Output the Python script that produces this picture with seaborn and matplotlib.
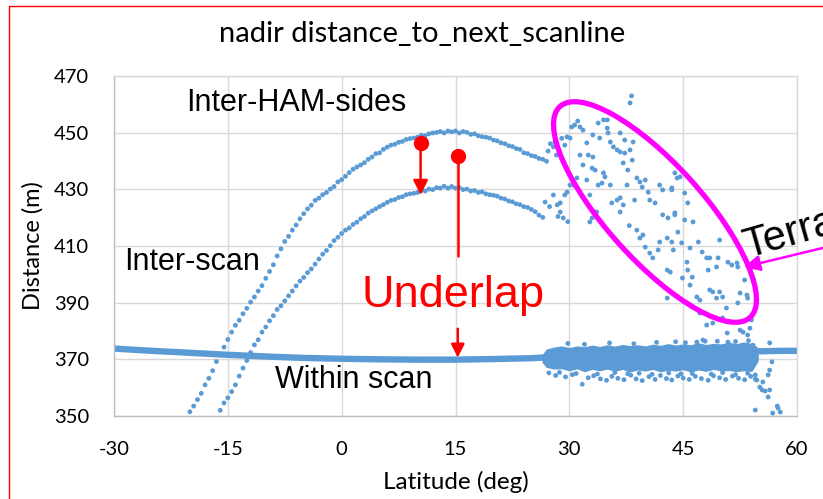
import matplotlib
matplotlib.use("Agg")
import matplotlib.pyplot as plt
from matplotlib.lines import Line2D
from matplotlib.patches import Ellipse
import numpy as np
import pandas as pd
import seaborn as sns

# ---- data (latitude in deg, distance in m) ----
ham_lat = [-20.0, -19.5, -19.0, -18.5, -18.0, -17.5, -17.0, -16.5, -16.0, -15.5,
           -15.0, -14.5, -14.0, -13.5, -13.0, -12.5, -12.0, -11.5, -11.0, -10.5,
           -10.0, -9.5, -9.0, -8.5, -8.0, -7.5, -7.0, -6.5, -6.0, -5.5,
           -5.0, -4.5, -4.0, -3.5, -3.0, -2.5, -2.0, -1.5, -1.0, -0.5,
           0.0, 0.5, 1.0, 1.5, 2.0, 2.5, 3.0, 3.5, 4.0, 4.5,
           5.0, 5.5, 6.0, 6.5, 7.0, 7.5, 8.0, 8.5, 9.0, 9.5,
           10.0, 10.5, 11.0, 11.5, 12.0, 12.5, 13.0, 13.5, 14.0, 14.5,
           15.0, 15.5, 16.0, 16.5, 17.0, 17.5, 18.0, 18.5, 19.0, 19.5,
           20.0, 20.5, 21.0, 21.5, 22.0, 22.5, 23.0, 23.5, 24.0, 24.5,
           25.0, 25.5, 26.0, 26.5, 27.0]
ham_dist = [351.5, 353.5, 355.8, 358.0, 361.0, 363.3, 366.0, 369.2, 371.5, 374.3,
            377.0, 379.6, 382.0, 383.8, 386.1, 388.0, 390.2, 392.0, 394.1, 396.0,
            398.6, 401.0, 403.4, 406.5, 409.0, 411.6, 413.4, 415.6, 417.4, 419.6,
            421.4, 423.1, 424.4, 426.1, 426.9, 428.1, 428.9, 430.1, 431.0, 432.6,
            433.4, 434.6, 435.9, 437.1, 437.9, 438.6, 439.4, 440.6, 441.4, 442.6,
            442.9, 444.1, 444.9, 445.6, 445.9, 446.6, 446.9, 447.6, 447.9, 448.1,
            448.4, 449.1, 448.9, 449.6, 449.9, 450.1, 450.4, 449.9, 450.6, 450.3,
            450.6, 449.9, 450.4, 450.1, 449.4, 449.6, 448.9, 448.6, 448.4, 448.1,
            447.4, 447.1, 446.4, 446.1, 445.4, 445.1, 444.4, 444.1, 442.9, 442.6,
            441.9, 441.6, 440.9, 440.6, 439.9]

scan_lat = [-16.0, -15.5, -15.0, -14.5, -14.0, -13.5, -13.0, -12.5, -12.0, -11.5,
            -11.0, -10.5, -10.0, -9.5, -9.0, -8.5, -8.0, -7.5, -7.0, -6.5,
            -6.0, -5.5, -5.0, -4.5, -4.0, -3.5, -3.0, -2.5, -2.0, -1.5,
            -1.0, -0.5, 0.0, 0.5, 1.0, 1.5, 2.0, 2.5, 3.0, 3.5,
            4.0, 4.5, 5.0, 5.5, 6.0, 6.5, 7.0, 7.5, 8.0, 8.5,
            9.0, 9.5, 10.0, 10.5, 11.0, 11.5, 12.0, 12.5, 13.0, 13.5,
            14.0, 14.5, 15.0, 15.5, 16.0, 16.5, 17.0, 17.5, 18.0, 18.5,
            19.0, 19.5, 20.0, 20.5, 21.0, 21.5, 22.0, 22.5, 23.0, 23.5,
            24.0, 24.5, 25.0, 25.5, 26.0, 26.5]
scan_dist = [352.0, 354.6, 356.4, 358.6, 361.0, 364.1, 366.9, 369.6, 372.4, 375.1,
             376.9, 379.6, 381.4, 383.6, 385.4, 387.6, 388.9, 390.6, 392.4, 394.1,
             395.9, 397.6, 398.9, 400.6, 401.9, 403.6, 405.4, 407.1, 408.4, 410.1,
             411.9, 413.1, 414.4, 415.6, 416.4, 417.6, 418.4, 419.6, 420.4, 421.6,
             422.4, 423.1, 423.9, 424.6, 425.4, 426.1, 426.4, 427.1, 427.4, 428.1,
             428.4, 428.6, 428.9, 429.6, 429.4, 430.1, 429.9, 430.6, 430.4, 431.1,
             430.4, 431.0, 430.4, 430.6, 429.9, 430.1, 429.4, 429.6, 428.9, 429.1,
             428.4, 428.1, 427.9, 427.6, 426.9, 426.6, 425.9, 425.6, 424.9, 424.6,
             423.9, 423.6, 422.9, 422.1, 420.9, 420.1]

# scattered "terra" points (beyond ~27 deg)
terra_lat = [27.2, 27.5, 27.9, 28.1, 28.3, 29.0, 29.4, 29.7, 30.1, 30.3,
             30.7, 31.1, 31.4, 31.8, 38.2, 38.0, 32.3, 33.8, 34.5, 35.0,
             35.0, 35.1, 33.1, 34.0, 36.7, 37.3, 38.4, 35.4, 35.8, 36.3,
             36.7, 37.3, 38.0, 38.3, 37.1, 37.7, 34.5, 34.7, 33.0, 33.4,
             31.4, 32.5, 33.1, 31.8, 32.3, 31.0, 30.5, 30.1, 29.7, 29.4,
             27.9, 26.8, 28.8, 28.4, 28.8, 29.2, 33.8, 34.3, 35.4, 32.7,
             33.0, 32.7, 33.6, 35.6, 36.3, 36.7, 37.1, 36.7, 37.6, 38.6,
             38.9, 39.3, 40.0, 39.6, 40.4, 40.6, 41.3, 41.9, 42.3, 43.5,
             42.3, 43.0, 43.9, 43.9, 44.2, 43.5, 44.6, 45.2, 45.6, 43.9,
             45.2, 46.3, 38.9, 39.7, 39.3, 40.0, 40.6, 41.0, 41.9, 42.9,
             43.5, 44.3, 44.8, 43.7, 41.7, 42.9, 43.3, 45.9, 47.5, 47.0,
             45.5, 48.1, 48.5, 49.6, 49.8, 50.9, 51.4, 52.1, 52.2, 49.4,
             48.3, 45.6, 46.2, 44.9, 45.9, 42.9, 46.8, 47.2, 48.5, 48.9,
             49.8, 49.4, 50.2, 50.7, 52.2, 52.5, 53.1, 53.4, 53.5, 48.1,
             48.9, 50.8, 52.5, 52.9, 54.0, 53.8, 47.2, 50.2, 53.5, 54.2,
             47.6, 46.8, 49.5, 51.9, 27.4, 29.8, 28.5, 37.9]
terra_dist = [443.5, 446.1, 445.0, 446.7, 442.1, 448.0, 445.6, 448.5, 448.1, 452.0,
              452.7, 454.1, 452.0, 450.9, 463.0, 460.5, 446.4, 453.4, 454.5, 454.5,
              451.6, 449.9, 449.2, 448.1, 449.9, 447.4, 446.7, 446.7, 445.0, 443.9,
              443.2, 442.8, 443.9, 440.3, 439.3, 436.8, 435.8, 434.4, 437.5, 436.8,
              442.1, 442.1, 441.4, 438.6, 433.3, 434.0, 431.5, 431.5, 429.0, 428.0,
              428.0, 425.5, 425.2, 424.5, 422.0, 419.9, 431.5, 432.2, 431.5, 428.0,
              419.9, 418.5, 422.0, 425.2, 426.2, 427.0, 424.5, 422.0, 431.5, 426.2,
              434.0, 432.6, 433.3, 430.8, 429.0, 426.2, 425.2, 431.5, 429.8, 429.8,
              421.0, 419.9, 421.7, 435.8, 434.0, 430.5, 434.4, 428.7, 425.2, 421.0,
              419.2, 418.5, 415.6, 413.9, 412.8, 409.6, 407.5, 405.8, 411.4, 412.8,
              411.4, 414.9, 411.1, 408.6, 408.6, 401.5, 400.8, 409.3, 407.9, 411.4,
              404.3, 405.8, 405.8, 405.8, 412.1, 404.3, 403.3, 404.0, 402.6, 402.6,
              401.5, 401.5, 399.0, 398.7, 396.2, 391.6, 392.0, 390.9, 394.5, 393.8,
              393.8, 391.6, 392.0, 388.1, 389.9, 393.4, 398.0, 392.7, 391.6, 382.1,
              382.8, 379.3, 380.3, 379.6, 383.9, 381.0, 386.3, 384.6, 378.6, 375.0,
              376.8, 376.1, 376.4, 376.3, 423.9, 418.6, 420.4, 417.2]

# points dropping off near 55-58 deg
drop_lat = [56.4, 56.7, 56.4, 56.2, 55.5, 55.1, 55.4, 55.8, 56.4, 56.2,
            54.5, 57.4, 57.5, 57.8, 56.8, 54.5, 54.7]
drop_dist = [375.8, 369.1, 366.2, 364.5, 362.0, 360.2, 359.2, 358.8, 359.2, 356.7,
             352.1, 353.5, 352.8, 351.4, 351.0, 364.5, 362.7]

# within-scan line (smooth part and tail beyond 55 deg)
within_lat = [-30, -25, -20, -15, -10, -5, 0, 5, 10, 15, 20, 25, 27]
within_dist = [373.8, 373.0, 372.3, 371.6, 371.0, 370.5, 370.2, 370.0, 369.9, 369.9,
               370.1, 370.4, 370.7]
tail_lat = [54.5, 56, 58, 60]
tail_dist = [372.8, 372.9, 373.0, 373.0]

# noisy within-scan band 27-55 deg: upper / lower edge of the dense core
band_lat = [26.5, 27, 28, 29, 30, 31, 32, 33, 34, 35, 36, 37, 38, 39, 40,
            41, 42, 43, 44, 45, 46, 47, 48, 49, 50, 51, 52, 53, 54, 54.8]
band_hi = [371.5, 373.4, 374.1, 374.5, 373.9, 374.5, 374.2, 374.8, 374.3, 374.9,
           374.4, 375.0, 374.6, 374.9, 374.5, 375.1, 374.7, 375.3, 374.8, 375.2,
           374.9, 375.6, 375.0, 375.4, 375.2, 375.8, 375.3, 375.9, 375.4, 374.0]
band_lo = [369.0, 367.4, 366.8, 366.9, 366.2, 366.9, 365.9, 366.7, 366.2, 366.8,
           366.0, 366.7, 365.8, 366.5, 366.1, 366.7, 365.8, 366.4, 366.1, 366.6,
           365.8, 366.5, 366.0, 366.7, 366.1, 366.3, 365.9, 366.2, 366.0, 369.5]
# stray points just outside the dense band
stray_lat = [27.3, 28.2, 29.5, 30.4, 31.7, 32.5, 33.2, 34.1, 34.9, 35.6,
             36.4, 37.2, 38.1, 38.8, 39.6, 40.5, 41.3, 42.0, 42.8, 43.5,
             44.3, 45.0, 45.8, 46.6, 47.4, 48.3, 49.0, 49.8, 50.6, 51.5,
             52.3, 53.1, 53.9, 54.5, 29.8, 35.3, 41.5, 47.9, 53.6, 44.0,
             28.7, 30.9, 33.7, 36.0, 37.7, 39.2, 40.9, 43.1, 44.7, 46.2,
             48.7, 50.2, 51.9, 53.5, 32.0, 38.5, 45.3, 50.9]
stray_dist = [365.2, 364.3, 363.8, 364.6, 361.2, 363.5, 364.2, 363.1, 362.6, 364.0,
              363.3, 362.8, 364.4, 363.1, 362.5, 363.9, 362.9, 364.3, 363.2, 362.7,
              364.1, 363.4, 362.9, 364.0, 363.2, 362.6, 364.2, 363.5, 362.9, 364.1,
              363.3, 362.8, 364.0, 363.0, 375.6, 375.8, 376.0, 376.4, 376.6, 376.2,
              365.4, 365.0, 364.8, 365.3, 364.9, 365.1, 364.7, 365.2, 364.9, 365.0,
              364.8, 365.3, 364.6, 365.1, 375.3, 375.5, 375.9, 376.1]

x_ticks = [-30, -15, 0, 15, 30, 45, 60]
y_ticks = [350, 370, 390, 410, 430, 450, 470]

BLUE = "#5B9BD5"
GRID = "#D9D9D9"

sns.set_style("whitegrid")
plt.rcParams['font.family'] = ['Lato', 'DejaVu Sans']
plt.rcParams['axes.unicode_minus'] = False
plt.rcParams['text.color'] = 'black'
plt.rcParams['axes.labelcolor'] = 'black'

fig = plt.figure(figsize=(8.23, 4.99), dpi=100)
ax = fig.add_axes([114 / 823, 1 - 416 / 499, 683 / 823, 340 / 499])

pts = pd.concat([
    pd.DataFrame({'lat': ham_lat, 'dist': ham_dist}),
    pd.DataFrame({'lat': scan_lat, 'dist': scan_dist}),
    pd.DataFrame({'lat': terra_lat, 'dist': terra_dist}),
    pd.DataFrame({'lat': drop_lat, 'dist': drop_dist}),
    pd.DataFrame({'lat': stray_lat, 'dist': stray_dist}),
], ignore_index=True)

ax.fill_between(band_lat, band_lo, band_hi, color=BLUE, lw=1.0, edgecolor=BLUE, zorder=2)
sns.lineplot(x=within_lat, y=within_dist, ax=ax, color=BLUE, lw=4.6, zorder=2)
sns.lineplot(x=tail_lat, y=tail_dist, ax=ax, color=BLUE, lw=4.6, zorder=2)
sns.scatterplot(data=pts, x='lat', y='dist', ax=ax, color=BLUE, s=12,
                edgecolor='none', linewidth=0, zorder=3)

ax.set_xlim(-30, 60)
ax.set_ylim(350, 470)
ax.set_xticks(x_ticks)
ax.set_yticks(y_ticks)
ax.grid(True, color=GRID, lw=1.0)
for sp in ax.spines.values():
    sp.set_color(GRID)
    sp.set_linewidth(1.0)
ax.spines['bottom'].set_color('#BFBFBF')
ax.spines['left'].set_color('#BFBFBF')
ax.tick_params(length=0, labelsize=14.5, pad=18, colors='black')
ax.set_xlabel('Latitude (deg)', fontsize=17.5, labelpad=9)
ax.set_ylabel('Distance (m)', fontsize=17, labelpad=7)

fig.text(422 / 823, 1 - 34 / 499, 'nadir distance_to_next_scanline', fontsize=21,
         ha='center', va='center')

# curve labels
arial = ['Liberation Sans', 'DejaVu Sans']
ax.text(-20.5, 460.5, 'Inter-HAM-sides', fontsize=22, family=arial, ha='left', va='center')
ax.text(-28.6, 404.3, 'Inter-scan', fontsize=22, family=arial, ha='left', va='center')
ax.text(-8.8, 362.7, 'Within scan', fontsize=22, family=arial, ha='left', va='center')
ax.text(2.6, 392.7, 'Underlap', fontsize=32.5, family=arial, ha='left', va='center',
        color='red')

# underlap markers
ax.plot([10.4], [446.5], 'o', color='red', ms=10, zorder=5)
ax.annotate('', xy=(10.4, 428.0), xytext=(10.4, 446.5),
            arrowprops=dict(arrowstyle='-|>', color='red', lw=1.8,
                            mutation_scale=22, shrinkA=0, shrinkB=0), zorder=5)
ax.plot([15.3], [441.8], 'o', color='red', ms=10, zorder=5)
ax.plot([15.3, 15.3], [441.8, 406.5], color='red', lw=1.8, zorder=5)
ax.annotate('', xy=(15.3, 370.6), xytext=(15.3, 380.8),
            arrowprops=dict(arrowstyle='-|>', color='red', lw=1.8,
                            mutation_scale=20, shrinkA=0, shrinkB=0), zorder=5)

# terra ellipse and arrow
ell = Ellipse((6.55, 2.87), 2.84, 0.96, angle=-48, transform=fig.dpi_scale_trans,
              fill=False, edgecolor='#FF00FF', lw=3.8, zorder=6)
ax.add_patch(ell)
ax.annotate('', xy=(744 / 823, 1 - 267 / 499), xycoords='figure fraction',
            xytext=(835 / 823, 1 - 245 / 499), textcoords='figure fraction',
            arrowprops=dict(arrowstyle='-|>', color='#FF00FF', lw=1.8,
                            mutation_scale=24, shrinkA=0, shrinkB=0),
            annotation_clip=False)
fig.text(747 / 823, 1 - 258 / 499, 'Terra', fontsize=30, family=arial, rotation=16,
         rotation_mode='anchor', ha='left', va='baseline')

# red frame (only top/left visible in the crop)
fig.add_artist(Line2D([9 / 823, 1], [1 - 6 / 499, 1 - 6 / 499], color='red', lw=1.0,
                      transform=fig.transFigure))
fig.add_artist(Line2D([9 / 823, 9 / 823], [0, 1 - 6 / 499], color='red', lw=1.0,
                      transform=fig.transFigure))

fig.savefig('out.png', dpi=100)
